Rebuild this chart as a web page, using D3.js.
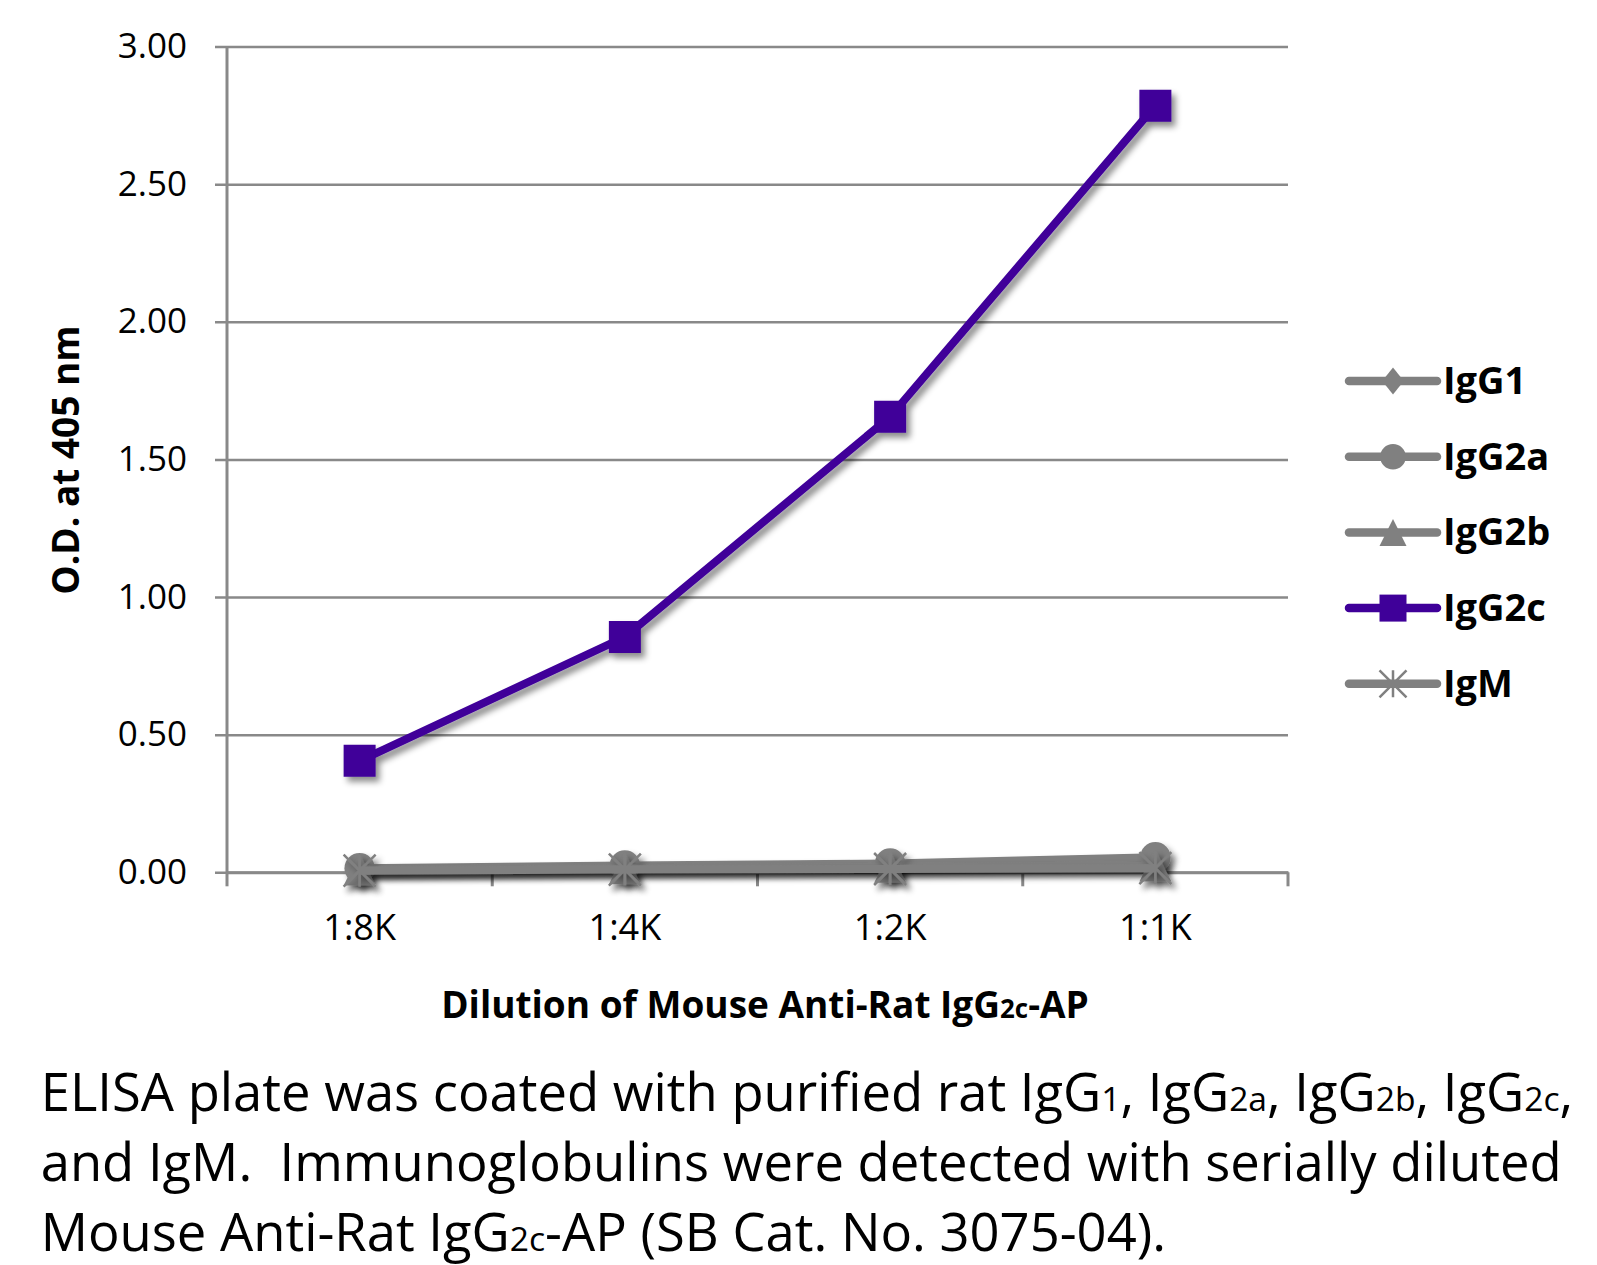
<!DOCTYPE html>
<html>
<head>
<meta charset="utf-8">
<script src="https://cdn.jsdelivr.net/npm/d3@7"></script>
<style>
  body { margin: 0; background: #fff; }
  text { font-family: "Open Sans", "Noto Sans", sans-serif; fill: #000; }
</style>
</head>
<body>
<div id="chart"></div>
<script>
// values
const categories = ["1:8K", "1:4K", "1:2K", "1:1K"];
const seriesNames = ["IgG1", "IgG2a", "IgG2b", "IgG2c", "IgM"];
const igg1Values = [0.012, 0.018, 0.022, 0.030];
const igg2aValues = [0.015, 0.025, 0.032, 0.055];
const igg2bValues = [0.010, 0.015, 0.020, 0.025];
const igg2cValues = [0.405, 0.855, 1.655, 2.785];
const igmValues = [0.006, 0.010, 0.012, 0.015];
const yTickValues = [0, 0.5, 1, 1.5, 2, 2.5, 3];

// caption pieces: [text, isSubscript]
const captionLines = [
  [["ELISA plate was coated with purified rat IgG", false], ["1", true], [", IgG", false], ["2a", true],
   [", IgG", false], ["2b", true], [", IgG", false], ["2c", true], [",", false]],
  [["and IgM.  Immunoglobulins were detected with serially diluted", false]],
  [["Mouse Anti-Rat IgG", false], ["2c", true], ["-AP (SB Cat. No. 3075-04).", false]]
];

const seriesValues = [igg1Values, igg2aValues, igg2bValues, igg2cValues, igmValues];
const seriesColors = ["#808080", "#808080", "#808080", "#3f0099", "#808080"];
const seriesShapes = ["diamond", "circle", "triangle", "square", "star"];

const width = 1597, height = 1265;
const plotLeft = 227, plotRight = 1288, plotTop = 46.5, plotBottom = 872.3;
const gridColor = "#898989";

const svg = d3.select("#chart")
  .append("svg")
  .attr("width", width)
  .attr("height", height);

const filter = svg.append("defs").append("filter")
  .attr("id", "shadow")
  .attr("filterUnits", "userSpaceOnUse")
  .attr("x", 0).attr("y", 0).attr("width", width).attr("height", height);
filter.append("feDropShadow")
  .attr("dx", 4).attr("dy", 5)
  .attr("stdDeviation", 3)
  .attr("flood-color", "#000")
  .attr("flood-opacity", 0.45);

const x = d3.scaleBand()
  .domain(categories)
  .range([plotLeft, plotRight]);
const xc = d => x(d) + x.bandwidth() / 2;

const y = d3.scaleLinear()
  .domain([0, 3])
  .range([plotBottom, plotTop]);

// gridlines + y labels (axis anchored on the right so ticks run across the plot)
const yAxis = svg.append("g")
  .attr("transform", `translate(${plotRight}, 0)`)
  .call(d3.axisLeft(y)
    .tickValues(yTickValues)
    .tickFormat(d3.format(".2f"))
    .tickSize(plotRight - 215)
    .tickPadding(28));
yAxis.select(".domain").remove();
yAxis.selectAll(".tick line")
  .attr("stroke", gridColor)
  .attr("stroke-width", 2.5);
yAxis.selectAll(".tick text")
  .attr("font-family", "Open Sans")
  .attr("font-size", 35)
  .attr("fill", "#000");

svg.append("line")
  .attr("x1", plotLeft).attr("x2", plotLeft)
  .attr("y1", y(3)).attr("y2", y(0))
  .attr("stroke", gridColor)
  .attr("stroke-width", 3);

// x axis
const xAxis = svg.append("g")
  .attr("transform", `translate(0, ${plotBottom})`)
  .call(d3.axisBottom(x).tickSize(0).tickPadding(42));
xAxis.select(".domain")
  .attr("stroke", gridColor)
  .attr("stroke-width", 3);
xAxis.selectAll(".tick text")
  .attr("font-family", "Open Sans")
  .attr("font-size", 36)
  .attr("fill", "#000");
xAxis.selectAll("line.bound")
  .data([...categories.map(d => x(d)), plotRight])
  .join("line")
  .attr("class", "bound")
  .attr("x1", d => d).attr("x2", d => d)
  .attr("y1", 0).attr("y2", 14)
  .attr("stroke", gridColor)
  .attr("stroke-width", 3);

function markerPath(shape, s) {
  const p = d3.path();
  const h = s / 2;
  if (shape === "diamond") {
    p.moveTo(0, -h); p.lineTo(h * 0.8, 0); p.lineTo(0, h); p.lineTo(-h * 0.8, 0); p.closePath();
  } else if (shape === "circle") {
    p.arc(0, 0, h * 0.95, 0, 2 * Math.PI);
  } else if (shape === "triangle") {
    p.moveTo(0, -h); p.lineTo(h, h); p.lineTo(-h, h); p.closePath();
  } else if (shape === "square") {
    p.rect(-h, -h, s, s);
  } else {
    p.moveTo(-h, -h); p.lineTo(h, h);
    p.moveTo(h, -h); p.lineTo(-h, h);
    p.moveTo(0, -h); p.lineTo(0, h);
  }
  return p.toString();
}

function drawMarker(sel, shape, color, s) {
  sel.append("path")
    .attr("d", markerPath(shape, s))
    .attr("fill", shape === "star" ? "none" : color)
    .attr("stroke", shape === "star" ? color : "none")
    .attr("stroke-width", shape === "star" ? 2.5 : 0);
}

const line = d3.line()
  .x((d, i) => xc(categories[i]))
  .y(d => y(d));

seriesNames.forEach((name, si) => {
  const g = svg.append("g").attr("filter", "url(#shadow)");
  g.append("path")
    .datum(seriesValues[si])
    .attr("d", line)
    .attr("fill", "none")
    .attr("stroke", seriesColors[si])
    .attr("stroke-width", 8)
    .attr("stroke-linejoin", "round");
  seriesValues[si].forEach((v, i) => {
    const m = g.append("g").attr("transform", `translate(${xc(categories[i])}, ${y(v)})`);
    drawMarker(m, seriesShapes[si], seriesColors[si], 32);
  });
});

// axis titles
svg.append("text")
  .attr("transform", "translate(79, 460) rotate(-90)")
  .attr("text-anchor", "middle")
  .attr("font-weight", "bold")
  .attr("font-size", 37)
  .text("O.D. at 405 nm");

const xTitle = svg.append("text")
  .attr("x", 765)
  .attr("y", 1018)
  .attr("text-anchor", "middle")
  .attr("font-weight", "bold")
  .attr("font-size", 37);
xTitle.append("tspan").text("Dilution of Mouse Anti-Rat IgG");
xTitle.append("tspan").attr("font-size", "0.7em").text("2c");
xTitle.append("tspan").text("-AP");

// legend
const legend = svg.append("g");
seriesNames.forEach((name, i) => {
  const ry = 381 + i * 75.7;
  const row = legend.append("g").attr("transform", `translate(0, ${ry})`);
  row.append("line")
    .attr("x1", 1349).attr("x2", 1437)
    .attr("stroke", seriesColors[i])
    .attr("stroke-width", 8.5)
    .attr("stroke-linecap", "round");
  const m = row.append("g").attr("transform", "translate(1393, 0)");
  drawMarker(m, seriesShapes[i], seriesColors[i], 27);
  row.append("text")
    .attr("x", 1443)
    .attr("y", 13)
    .attr("font-weight", "bold")
    .attr("font-size", 38)
    .text(name);
});

// caption, sized so the first line spans the same width as the reference
const captionBaselines = [1111, 1181, 1251];
const captionTexts = captionLines.map((pieces, li) => {
  const t = svg.append("text")
    .attr("x", 40.7)
    .attr("y", captionBaselines[li])
    .attr("font-size", 50)
    .style("white-space", "pre");
  pieces.forEach(([str, sub]) => {
    const ts = t.append("tspan").text(str);
    if (sub) ts.attr("font-size", "0.64em");
  });
  return t;
});
const captionSize = 50 * 1533 / captionTexts[0].node().getComputedTextLength();
captionTexts.forEach(t => t.attr("font-size", captionSize));
</script>
</body>
</html>
